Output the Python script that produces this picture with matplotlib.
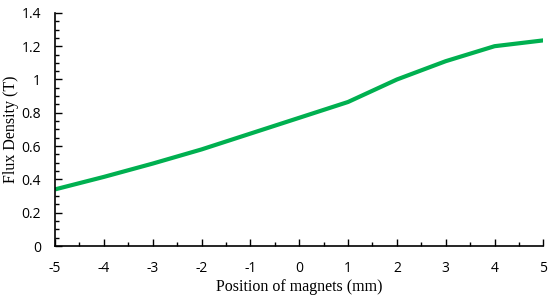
import matplotlib
matplotlib.use('Agg')
import matplotlib.pyplot as plt
from matplotlib.ticker import MultipleLocator

plt.rcParams['axes.unicode_minus'] = False

# data
position = [-5, -4, -3, -2, -1, 0, 1, 2, 3, 4, 5]
flux = [0.34, 0.415, 0.495, 0.58, 0.675, 0.77, 0.865, 1.0, 1.11, 1.2, 1.235]

fig = plt.figure(figsize=(5.5, 3), dpi=100)
ax = fig.add_axes([0.1, 0.18, 0.888, 0.777])

ax.plot(position, flux, color='#00B050', linewidth=3, solid_capstyle='butt')

ax.set_xlim(-5, 5)
ax.set_ylim(0, 1.4)
ax.xaxis.set_major_locator(MultipleLocator(1))
ax.xaxis.set_minor_locator(MultipleLocator(0.5))
ax.yaxis.set_minor_locator(MultipleLocator(0.05))
ax.set_yticks([0, 0.2, 0.4, 0.6, 0.8, 1.0, 1.2, 1.4])
ax.set_yticklabels(['0', '0.2', '0.4', '0.6', '0.8', '1', '1.2', '1.4'])

for s in ['top', 'right']:
    ax.spines[s].set_visible(False)
for s in ['left', 'bottom']:
    ax.spines[s].set_linewidth(1.2)

ax.tick_params(which='both', direction='in', width=1.0, labelsize=10)
ax.tick_params(which='major', length=5)
ax.tick_params(which='minor', length=3)
ax.tick_params(axis='x', pad=11)
ax.tick_params(axis='y', pad=10)
for lab in ax.get_xticklabels() + ax.get_yticklabels():
    lab.set_fontfamily('Open Sans')

ax.set_xlabel('Position of magnets (mm)', fontfamily='Liberation Serif', fontsize=11.5, labelpad=2)
ax.set_ylabel('Flux Density (T)', fontfamily='Liberation Serif', fontsize=11.5, labelpad=2)

plt.savefig('out.png', dpi=100)
